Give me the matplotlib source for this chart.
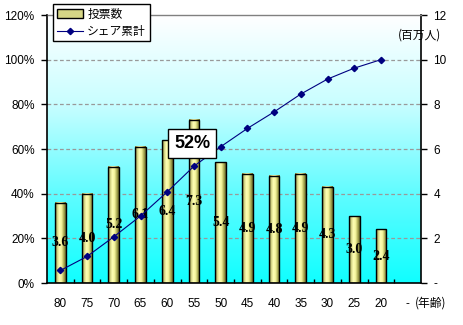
import numpy as np
import matplotlib
matplotlib.use("Agg")
import matplotlib.pyplot as plt
from matplotlib.colors import LinearSegmentedColormap
from matplotlib.patches import Rectangle, Patch
from matplotlib.lines import Line2D

plt.rcParams['font.family'] = ['Liberation Sans', 'Noto Sans CJK JP']

# Age groups (last group has no data)
ages = ["80", "75", "70", "65", "60", "55", "50", "45", "40", "35", "30", "25", "20", "-"]
votes = [3.6, 4.0, 5.2, 6.1, 6.4, 7.3, 5.4, 4.9, 4.8, 4.9, 4.3, 3.0, 2.4]      # millions
share_cum = [5.6, 11.9, 20.7, 30.0, 40.8, 52.3, 61.0, 69.2, 76.6, 84.6, 91.3, 96.2, 100.0]  # %
left_ticks = [0, 20, 40, 60, 80, 100, 120]
left_labels = ["0%", "20%", "40%", "60%", "80%", "100%", "120%"]
right_ticks = [0, 2, 4, 6, 8, 10, 12]
right_labels = ["-", "2", "4", "6", "8", "10", "12"]
callout_text = "52%"

fig = plt.figure(figsize=(4.64, 3.25), dpi=100)
ax = fig.add_axes([47/464, 1-283/325, (421-47)/464, (283-15)/325])
ax2 = ax.twinx()
ax.yaxis.tick_right()
ax.yaxis.set_label_position("right")
ax2.yaxis.tick_left()

n = len(ages)
x = np.arange(n)
ax.set_xlim(-0.5, n - 0.5)
ax.set_ylim(0, 12)

# background gradient
bg = LinearSegmentedColormap.from_list("bg", ["#10ffff", "#60fcff", "#c8feff", "#ffffff"])
grad = np.linspace(0, 1, 256).reshape(-1, 1)
ax.imshow(grad, cmap=bg, origin="lower", extent=[-0.5, n - 0.5, 0, 12],
          aspect="auto", zorder=0)

# horizontal grid
for v in right_ticks[1:-1]:
    ax.axhline(v, color="#999999", lw=0.9, ls=(0, (3, 2)), zorder=1)

# gradient-shaded bars
barcm = LinearSegmentedColormap.from_list(
    "bar", ["#74742f", "#d0d080", "#ffffb4", "#f4f49c", "#b0b058", "#666628"])
hgrad = np.linspace(0, 1, 64).reshape(1, -1)
w = 0.4
for i, v in enumerate(votes):
    ax.imshow(hgrad, cmap=barcm, extent=[i - w/2, i + w/2, 0, v],
              aspect="auto", zorder=2)
    ax.add_patch(Rectangle((i - w/2, 0), w, v, fill=False, ec="black",
                           lw=1.0, zorder=3))
    ax.text(i, v / 2, f"{v:.1f}", ha="center", va="center", fontsize=10,
            fontweight="bold", family="Liberation Serif", zorder=4)

ax.set_yticks(right_ticks)
ax.set_yticklabels(right_labels, fontsize=8.5)
ax.tick_params(axis="y", direction="out", length=4, width=1, pad=5,
               left=False, labelleft=False, right=True, labelright=True)
ax.set_xticks(x)
ax.set_xticklabels(ages, fontsize=8.5)
ax.tick_params(axis="x", length=0, pad=11)
ax.set_xticks(np.arange(0.5, n - 1, 1), minor=True)
ax.tick_params(axis="x", which="minor", direction="in", length=3, width=1)

for s in ["left", "right", "bottom"]:
    ax.spines[s].set_color("black")
    ax.spines[s].set_linewidth(1.2)
ax.spines["top"].set_color("#808080")
ax.spines["top"].set_linewidth(1.0)

# cumulative share line on the percentage axis
ax2.set_ylim(0, 120)
ax2.set_xlim(-0.5, n - 0.5)
ax2.plot(x[:len(share_cum)], share_cum, color="#000080", lw=0.8, marker="D",
         markersize=3.2, markerfacecolor="#000080", markeredgecolor="#000080", zorder=5)
ax2.set_yticks(left_ticks)
ax2.set_yticklabels(left_labels, fontsize=8.5)
ax2.tick_params(axis="y", direction="out", length=4, width=1, pad=5,
                left=True, labelleft=True, right=False, labelright=False)
for s in ax2.spines.values():
    s.set_visible(False)

ax2.text(4.94, 62.5, callout_text, ha="center", va="center", fontsize=13,
         fontweight="bold", zorder=6,
         bbox=dict(boxstyle="square,pad=0.32", fc="white", ec="black", lw=1))

# axis annotations
fig.text(420/464, 1-35/325, "(百万人)", ha="center", va="center", fontsize=8.5,
         family=["Noto Sans CJK JP"])
fig.text(431/464, 1-303/325, "(年齢)", ha="center", va="center", fontsize=8.5,
         family=["Noto Sans CJK JP"])

# legend
handles = [Patch(facecolor="#d6d686", edgecolor="black", lw=1),
           Line2D([], [], color="#000080", lw=0.8, marker="D", markersize=3.2)]
leg = fig.legend(handles, ["投票数", "シェア累計"], loc="upper left",
                 bbox_to_anchor=(53/464, 1-4/325), borderaxespad=0,
                 fancybox=False, edgecolor="black", framealpha=1,
                 prop={"family": ["Noto Sans CJK JP"], "size": 8.5},
                 handlelength=2.2, handletextpad=0.4, borderpad=0.3,
                 labelspacing=0.35)
leg.get_frame().set_linewidth(1)

fig.savefig("out.png", dpi=100)
